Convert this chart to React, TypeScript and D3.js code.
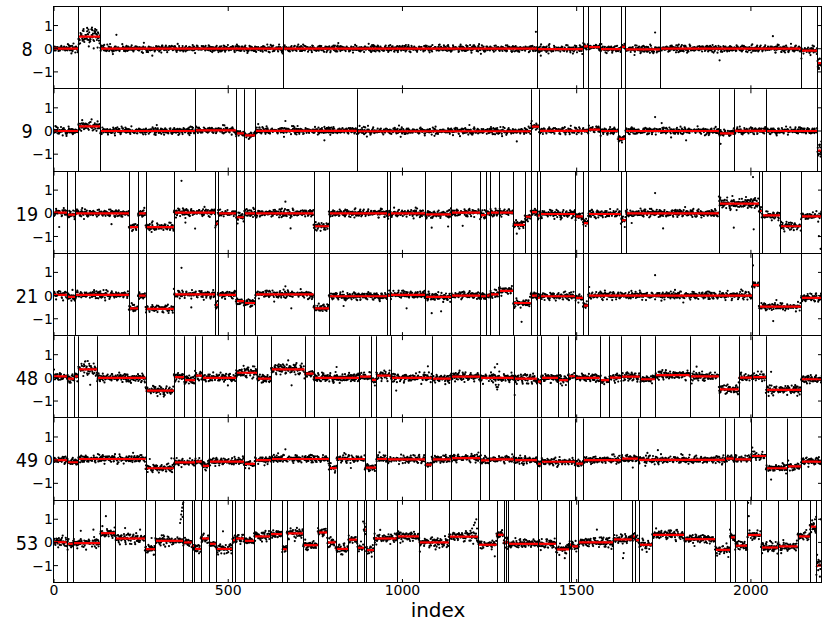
import React from 'react';
import * as d3 from 'd3';

const W = 830;
const H = 623;
const X_MAX = 2204;
const X_TICKS = [0, 500, 1000, 1500, 2000];
const Y_TICKS = [-1, 0, 1];
const Y_DOMAIN = [-1.75, 1.8];
const PANEL_NAMES = ['8', '9', '19', '21', '48', '49', '53'];

// typical scatter of the points around each panel's segment means
const NOISE_LEVEL = [0.08, 0.08, 0.09, 0.09, 0.1, 0.09, 0.11];

// segments: [start index, mean, optional wider scatter]
const SEG_8 = [
  [0, 0.0], [70, 0.52, 0.2], [133, 0.0], [656, 0.0], [1386, -0.02], [1518, 0.1], [1533, 0.07],
  [1568, -0.02], [1627, 0.08], [1640, -0.03], [1739, 0.0], [2143, -0.08], [2191, -0.62, 0.15],
];
const SEG_9 = [
  [0, 0.0], [70, 0.2, 0.12], [133, 0.0], [405, 0.03], [522, -0.1], [545, -0.19], [577, 0.01],
  [869, -0.01], [1368, 0.19], [1392, 0.01], [1533, 0.06], [1568, 0.0], [1618, -0.34], [1640, 0.0],
  [1908, -0.1], [1951, 0.01], [2043, 0.0], [2191, -0.84, 0.2],
];
const SEG_19 = [
  [0, 0.03], [37, -0.06], [61, 0.0], [215, -0.6], [241, 0.0], [263, -0.6], [344, 0.03], [463, -0.45],
  [470, 0.0], [522, -0.17], [545, 0.0], [577, 0.0], [745, -0.56], [789, 0.0], [957, -0.05], [965, 0.0],
  [1066, -0.05], [1140, 0.03], [1223, -0.08], [1241, 0.0], [1250, 0.03], [1276, 0.03], [1318, -0.5],
  [1351, -0.15], [1368, 0.05], [1386, -0.1], [1394, -0.03], [1496, -0.13], [1518, -0.42], [1533, -0.03],
  [1627, -0.3], [1641, 0.0], [1908, 0.42, 0.13], [2023, 0.1], [2031, -0.09], [2084, -0.56], [2144, -0.13],
];
const SEG_21 = [
  [0, 0.03], [37, -0.06], [61, 0.03], [215, -0.55], [241, 0.0], [263, -0.57], [344, 0.05], [463, -0.4],
  [470, 0.03], [522, -0.24], [545, -0.32], [577, 0.05], [745, -0.55], [789, -0.03], [957, 0.0], [965, 0.03],
  [1066, -0.06], [1140, 0.0], [1223, -0.03], [1241, 0.0], [1250, 0.05], [1276, 0.2], [1318, -0.32],
  [1368, 0.0], [1386, -0.1], [1394, -0.03], [1496, -0.1], [1518, -0.43], [1533, 0.0], [2003, 0.45],
  [2023, -0.48], [2144, -0.1],
];
const SEG_48 = [
  [0, 0.06], [37, -0.03], [58, 0.06], [70, 0.37, 0.15], [124, 0.0], [263, -0.55], [344, 0.03], [374, -0.1],
  [405, 0.1], [426, 0.0], [522, 0.22, 0.13], [583, -0.03], [623, 0.37, 0.13], [719, 0.18], [745, 0.0],
  [876, 0.05], [911, -0.09], [925, 0.1], [966, 0.0], [1084, -0.03], [1139, 0.05], [1223, 0.0],
  [1319, -0.03], [1386, -0.16], [1398, 0.0], [1447, -0.1], [1475, 0.07], [1496, 0.0], [1566, -0.1],
  [1594, 0.01], [1627, 0.05], [1681, -0.06], [1725, 0.12], [1824, 0.06], [1908, -0.5], [1965, 0.01],
  [2003, 0.03], [2043, -0.52], [2144, -0.06],
];
const SEG_49 = [
  [0, 0.0], [37, -0.09], [70, 0.05], [263, -0.35], [344, -0.1], [405, -0.06], [424, -0.25], [446, -0.06],
  [545, -0.16], [577, 0.0], [623, 0.05], [789, -0.34], [811, 0.05], [892, -0.32], [925, 0.05], [957, 0.03],
  [1066, -0.19], [1084, 0.03], [1139, 0.09], [1223, -0.01], [1249, 0.03], [1319, 0.0], [1386, -0.16],
  [1398, -0.07], [1496, -0.15], [1518, 0.0], [1627, 0.07], [1676, 0.01], [1927, 0.07], [1951, 0.03],
  [2000, 0.18], [2043, -0.35], [2104, -0.27], [2144, -0.06],
];
const SEG_53 = [
  [0, 0.01], [36, -0.06], [54, -0.03], [133, 0.4], [175, 0.17], [261, -0.29], [291, 0.07], [371, 0.0],
  [395, -0.15], [402, -0.28], [421, 0.17], [445, -0.06], [464, -0.28], [512, 0.1], [520, 0.17], [546, 0.07],
  [574, 0.26], [620, 0.36], [655, -0.29], [668, 0.39], [715, -0.12], [757, 0.43], [784, 0.0], [808, -0.28],
  [845, 0.12], [870, -0.23], [890, 0.55], [895, -0.33], [918, 0.17], [983, 0.26], [1047, 0.0], [1133, 0.25],
  [1218, -0.1], [1270, 0.33], [1290, 0.0], [1296, 0.0], [1304, -0.06], [1390, -0.06], [1440, -0.3],
  [1478, -0.1], [1485, -0.17], [1504, 0.0], [1605, 0.13], [1658, 0.26], [1667, 0.1], [1679, -0.1],
  [1717, 0.33], [1808, 0.14], [1897, -0.32], [1940, 0.22], [1954, -0.14], [1990, 0.32], [2029, -0.22],
  [2078, -0.17], [2134, 0.26], [2169, 0.68, 0.15], [2188, -1.0, 0.25],
];
const SEGMENTS = [SEG_8, SEG_9, SEG_19, SEG_21, SEG_48, SEG_49, SEG_53];

// stray points: [index, value]
const OUT_8 = [[179, 0.6], [282, -0.3], [1383, 0.73], [1397, -0.3], [1725, 0.7], [1910, -0.5], [2063, 0.54],
  [2145, -0.42], [2195, -0.87], [85, 0.85], [95, 0.9], [110, 0.8], [118, 0.85], [100, 0.1], [125, 0.05]];
const OUT_9 = [[664, 0.43], [776, -0.4], [1328, -0.45], [1371, 0.43], [1725, 0.6], [1744, 0.34], [1814, -0.4],
  [1913, -0.55], [2196, -0.6], [2200, -1.1]];
const OUT_19 = [[15, -0.59], [165, -0.47], [366, 1.4], [377, -0.4], [405, -0.66], [664, 0.5], [679, -0.65],
  [1084, -0.62], [1131, -0.57], [1173, -0.54], [1328, -0.88], [1658, -0.42], [1725, 0.87], [1748, -0.65],
  [1951, -0.62], [2006, 1.56], [2008, -0.69], [2195, -0.99], [2200, -1.53]];
const OUT_21 = [[366, 1.2], [394, -0.51], [664, 0.4], [681, -0.55], [831, -0.45], [1012, -0.55], [1084, -0.76],
  [1111, -0.68], [1342, -1.13], [1519, -0.32], [1524, -0.45], [1536, 0.37], [1725, 0.88], [1806, -0.3],
  [2006, 1.3], [2064, -1.1]];
const OUT_48 = [[89, 0.7], [104, -0.3], [682, -0.32], [811, 0.47], [982, -0.55], [1073, 0.5], [1268, -0.3],
  [1270, -0.4], [1272, -0.5], [1274, -0.4], [1276, -0.3], [1272, 0.6], [1265, 0.45], [1322, -0.74],
  [1844, 0.48], [1962, -0.68], [2058, 0.26]];
const OUT_49 = [[275, 0.05], [337, 0.08], [664, 0.47], [852, -0.34], [1661, -0.32], [1733, 0.43], [2004, 0.54],
  [2058, -0.84]];
const OUT_53 = [[77, 0.5], [113, 0.55], [149, 1.13], [204, 0.62], [247, 0.55], [280, 0.19], [362, 0.84],
  [364, 1.0], [365, 1.2], [367, 1.35], [368, 1.5], [370, 1.65], [371, 1.72], [369, 1.1], [485, 0.48],
  [887, 0.9], [889, 0.55], [936, 0.54], [1050, -0.4], [1195, 0.5], [1200, 0.6], [1205, 0.75], [1208, 0.85],
  [1212, 1.0], [1214, 0.6], [1265, -0.6], [1466, -0.68], [1558, 0.55], [1633, -0.68], [1635, -0.46],
  [1940, 0.55], [1992, 1.71], [1994, 1.13], [2180, 0.84], [2184, 1.0], [2187, 1.1], [2198, -1.48], [2200, 1.0]];
const OUTLIERS = [OUT_8, OUT_9, OUT_19, OUT_21, OUT_48, OUT_49, OUT_53];

// hand-typed residual pattern used for the dense band of points
const NOISE = [
  0.3, -1.1, 0.6, 0.1, -0.4, 1.4, -0.8, 0.0, 0.9, -0.2,
  -1.6, 0.5, 0.2, -0.7, 1.1, -0.3, 0.4, -1.0, 0.8, -0.1,
  1.9, -0.5, 0.0, 0.7, -1.3, 0.3, -0.6, 1.2, 0.1, -0.9,
  0.5, -0.2, -2.1, 0.6, 1.0, -0.4, 0.2, -1.2, 0.9, 0.0,
  -0.3, 1.5, -0.7, 0.4, -0.1, -0.8, 1.3, 0.2, -1.5, 0.7,
  0.1, -0.6, 2.2, -0.2, 0.5, -1.0, 0.3, 0.8, -0.4, -0.9,
  1.1, 0.0, -0.3, 0.6, -1.8, 0.4, 0.9, -0.5, 0.2, -1.1,
  1.6, -0.1, 0.3, -0.7, 0.7, -0.2, 1.0, -1.4, 0.1, 0.5,
  -0.6, 2.5, -0.3, 0.2, -0.8, 1.2, -0.1, 0.4, -1.2, 0.6,
  -0.4, 0.8, -2.4, 0.3, 1.7, -0.5, 0.0, -0.9, 0.5, 1.3,
  -0.2,
];

const LEFT = 54;
const RIGHT = 822;
const TOP = 7;
const BOTTOM = 583;
const FONT = 'DejaVu Sans, sans-serif';

function residual(i: number, p: number) {
  const n = NOISE.length;
  const m = n - 4;
  return 0.72 * (NOISE[(i * 37 + p * 13) % n] + NOISE[(i * 19 + p * 5) % m]);
}

function dot(cx: number, cy: number, r: number) {
  return `M${(cx - r).toFixed(1)},${cy.toFixed(1)}a${r},${r} 0 1,0 ${2 * r},0a${r},${r} 0 1,0 ${-2 * r},0`;
}

// snap 1px lines to the pixel grid so they stay crisp
const crisp = (v: number) => Math.round(v) + 0.5;

function Panel({ p, x }: { p: number; x: d3.ScaleLinear<number, number> }) {
  const panelH = (BOTTOM - TOP) / PANEL_NAMES.length;
  const top = TOP + p * panelH;
  const bottom = top + panelH;
  const y = d3.scaleLinear().domain(Y_DOMAIN).range([bottom, top]);
  const segs = SEGMENTS[p];
  const ends = segs.map((s, k) => (k + 1 < segs.length ? segs[k + 1][0] : X_MAX));

  let path = '';
  let k = 0;
  for (let i = 0; i < X_MAX; i++) {
    while (k + 1 < segs.length && i >= segs[k + 1][0]) k++;
    const spread = segs[k][2] ?? NOISE_LEVEL[p];
    const v = segs[k][1] + spread * residual(i, p);
    path += dot(x(i), y(v), 1.1);
  }
  OUTLIERS[p].forEach(([i, v]) => { path += dot(x(i), y(v), 1.1); });

  const clipId = `clip-${p}`;
  const t0 = Math.round(top);
  const b0 = Math.round(bottom);
  return (
    <g>
      <clipPath id={clipId}>
        <rect x={LEFT} y={top} width={RIGHT - LEFT} height={panelH} />
      </clipPath>
      <g clipPath={`url(#${clipId})`}>
        <path d={path} fill="#000" />
        {segs.map((s, j) => (
          <line key={`r${j}`} x1={x(s[0])} x2={x(ends[j])} y1={y(s[1])} y2={y(s[1])} stroke="#ff0000" strokeWidth={2.2} />
        ))}
        {segs.filter(s => s[0] > 0).map((s, j) => (
          <line key={`v${j}`} x1={crisp(x(s[0]))} x2={crisp(x(s[0]))} y1={t0} y2={b0} stroke="#000" strokeWidth={1} />
        ))}
      </g>
      {Y_TICKS.map(t => (
        <g key={t}>
          <line x1={LEFT} x2={LEFT + 4} y1={y(t)} y2={y(t)} stroke="#000" />
          <line x1={RIGHT - 4} x2={RIGHT} y1={y(t)} y2={y(t)} stroke="#000" />
          <text x={LEFT - 1} y={y(t)} dy="0.36em" textAnchor="end" fontSize={14} fontFamily={FONT}>
            {t < 0 ? `\u2212${Math.abs(t)}` : t}
          </text>
        </g>
      ))}
      {X_TICKS.map(t => (
        <g key={t}>
          <line x1={x(t)} x2={x(t)} y1={bottom} y2={bottom - 4} stroke="#000" />
          <line x1={x(t)} x2={x(t)} y1={top} y2={top + 4} stroke="#000" />
        </g>
      ))}
      <rect x={crisp(LEFT) - 1} y={crisp(top) - 1} width={RIGHT - LEFT} height={b0 - t0} fill="none" stroke="#000" strokeWidth={1} />
      <text transform={`translate(27,${y(0)}) scale(0.88,1)`} dy="0.36em" textAnchor="middle" fontSize={20} fontFamily={FONT}>
        {PANEL_NAMES[p]}
      </text>
    </g>
  );
}

export default function App() {
  const x = d3.scaleLinear().domain([0, X_MAX]).range([LEFT, RIGHT]);
  return (
    <svg width={W} height={H} style={{ position: 'absolute', left: 0, top: 0, background: '#fff' }}>
      {PANEL_NAMES.map((_, p) => <Panel key={p} p={p} x={x} />)}
      {X_TICKS.map(t => (
        <text key={t} x={x(t)} y={595} textAnchor="middle" fontSize={14} fontFamily={FONT}>{t}</text>
      ))}
      <text x={(LEFT + RIGHT) / 2} y={617} textAnchor="middle" fontSize={20} fontFamily={FONT}>index</text>
    </svg>
  );
}
